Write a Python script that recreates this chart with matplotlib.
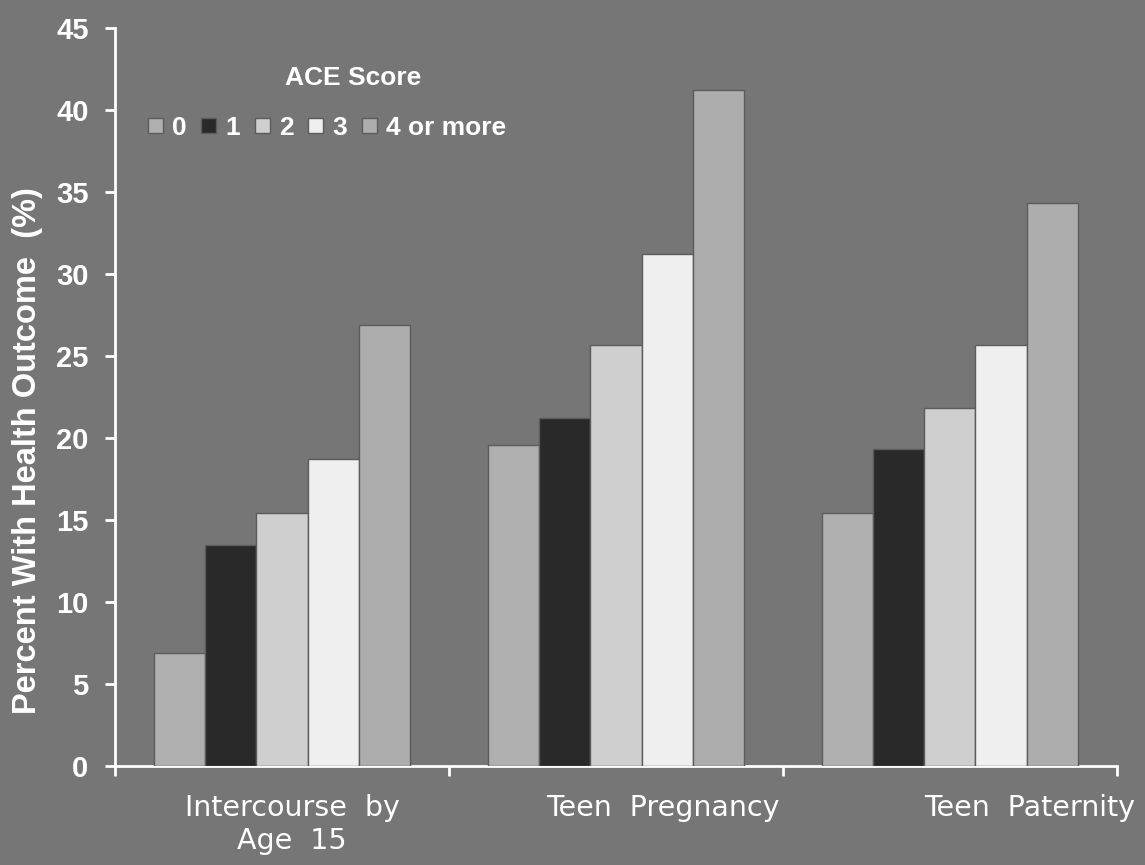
import matplotlib
matplotlib.use("Agg")
import matplotlib.pyplot as plt
import numpy as np

categories = ["Intercourse  by\nAge  15", "Teen  Pregnancy", "Teen  Paternity"]
series_labels = ["0", "1", "2", "3", "4 or more"]
values = {
    "0": [6.9, 19.6, 15.4],
    "1": [13.5, 21.2, 19.3],
    "2": [15.4, 25.7, 21.8],
    "3": [18.7, 31.2, 25.7],
    "4 or more": [26.9, 41.2, 34.3],
}
yticks = [0, 5, 10, 15, 20, 25, 30, 35, 40, 45]

colors = ["#afafaf", "#292929", "#cfcfcf", "#efefef", "#adadad"]
bg = "#767676"
bold_fam = ["Liberation Sans", "DejaVu Sans"]

fig = plt.figure(figsize=(11.45, 8.65), dpi=100, facecolor=bg)
ax = fig.add_axes([0.1004, 0.1145, 0.8751, 0.8531], facecolor=bg)

x = np.arange(len(categories))
w = 0.153
n = len(series_labels)
for i, (lab, c) in enumerate(zip(series_labels, colors)):
    off = (i - (n - 1) / 2) * w
    ax.bar(x + off, values[lab], width=w, color=c, edgecolor="#5c5c5c",
           linewidth=1.0, label=lab, zorder=3)

ax.set_xlim(-0.5, 2.5)
ax.set_ylim(0, 45)
ax.set_yticks(yticks)
ax.set_yticklabels([str(t) for t in yticks], fontsize=21, fontweight="bold",
                   color="white", family=bold_fam)
ax.set_xticks([-0.5, 0.5, 1.5, 2.5])
ax.set_xticklabels([])
ax.tick_params(axis="y", direction="out", length=7, width=2, color="white", pad=12)
ax.tick_params(axis="x", direction="out", length=7, width=2, color="white")

for s in ["top", "right"]:
    ax.spines[s].set_visible(False)
for s in ["left", "bottom"]:
    ax.spines[s].set_color("white")
    ax.spines[s].set_linewidth(2)

ax.set_ylabel("Percent With Health Outcome  (%)", fontsize=23.5, fontweight="bold",
              color="white", family=bold_fam)
ax.yaxis.set_label_coords(-0.072, 0.427)

label_off = [0.03, 0.14, 0.24]
for xi, cat, o in zip(x, categories, label_off):
    ax.text(xi + o, -0.038, cat, transform=ax.get_xaxis_transform(),
            ha="center", va="top", color="white", fontsize=20.5,
            family="DejaVu Sans", linespacing=1.25)

fig.text(353 / 1145, 1 - 78 / 865, "ACE Score", ha="center", va="center",
         color="white", fontsize=19, fontweight="bold", family=bold_fam)

leg = ax.legend(loc="center left", bbox_to_anchor=(148 / 1145, 1 - 128 / 865),
                bbox_transform=fig.transFigure, ncol=5, frameon=False,
                prop={"family": bold_fam, "weight": "bold", "size": 19},
                handlelength=0.57, handleheight=0.5, handletextpad=0.35,
                columnspacing=0.55, borderaxespad=0, borderpad=0)
for t in leg.get_texts():
    t.set_color("white")

fig.savefig("out.png", dpi=100, facecolor=bg)
